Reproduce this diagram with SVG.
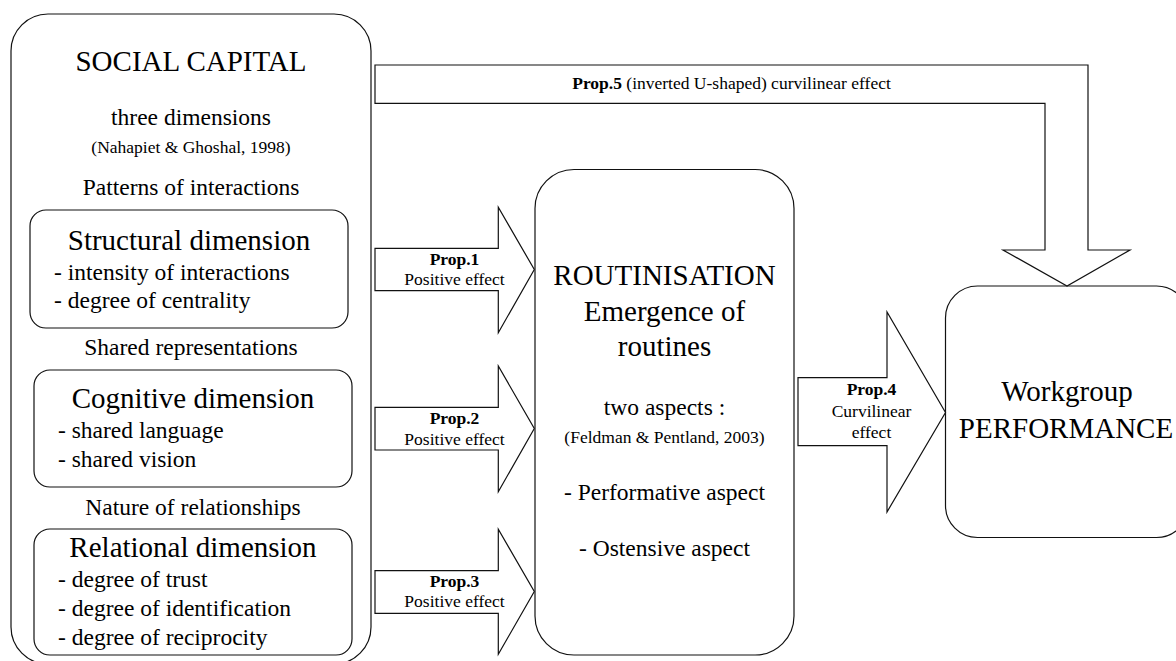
<svg xmlns="http://www.w3.org/2000/svg" width="1176" height="661" viewBox="0 0 1176 661" font-family="'Liberation Serif', 'DejaVu Serif', serif">
<style>
.box{fill:#fff;stroke:#111;stroke-width:1.2}
.arr{fill:#fff;stroke:#111;stroke-width:1.2;stroke-linejoin:miter}
.t{font-family:'Liberation Serif','DejaVu Serif',serif;fill:#000}
.big{font-size:29px}
.mid{font-size:23.5px}
.sm{font-size:17.5px}
.b{font-weight:bold}
.c{text-anchor:middle}
</style>
<rect width="1176" height="661" fill="#fff"/>
<g id="social-capital">
<rect class="box" x="11" y="14" width="360" height="650" rx="37" ry="37"/>
<text class="t big c" x="191" y="71">SOCIAL CAPITAL</text>
<text class="t mid c" x="191" y="125">three dimensions</text>
<text class="t sm c" x="191" y="153">(Nahapiet &amp; Ghoshal, 1998)</text>
<text class="t mid c" x="191" y="195">Patterns of interactions</text>
<text class="t mid c" x="191" y="355">Shared representations</text>
<text class="t mid c" x="193" y="515">Nature of relationships</text>
</g>
<g id="structural">
<rect class="box" x="30" y="210" width="318" height="118" rx="16" ry="16"/>
<text class="t big c" x="189" y="250">Structural dimension</text>
<text class="t mid" x="54" y="280">- intensity of interactions</text>
<text class="t mid" x="54" y="308">- degree of centrality</text>
</g>
<g id="cognitive">
<rect class="box" x="34" y="370" width="318" height="117" rx="16" ry="16"/>
<text class="t big c" x="193" y="408">Cognitive dimension</text>
<text class="t mid" x="58" y="438">- shared language</text>
<text class="t mid" x="58" y="467">- shared vision</text>
</g>
<g id="relational">
<rect class="box" x="34" y="529" width="318" height="126" rx="16" ry="16"/>
<text class="t big c" x="193" y="557">Relational dimension</text>
<text class="t mid" x="58" y="587">- degree of trust</text>
<text class="t mid" x="58" y="616">- degree of identification</text>
<text class="t mid" x="58" y="645">- degree of reciprocity</text>
</g>
<g id="routinisation">
<rect class="box" x="535" y="169.5" width="259" height="485.5" rx="39" ry="39"/>
<text class="t big c" x="664.5" y="285">ROUTINISATION</text>
<text class="t big c" x="664.5" y="321">Emergence of</text>
<text class="t big c" x="664.5" y="356">routines</text>
<text class="t mid c" x="664.5" y="415">two aspects :</text>
<text class="t sm c" x="664.5" y="443">(Feldman &amp; Pentland, 2003)</text>
<text class="t mid c" x="664.5" y="500">- Performative aspect</text>
<text class="t mid c" x="664.5" y="556">- Ostensive aspect</text>
</g>
<g id="performance">
<rect class="box" x="945.5" y="286" width="243" height="251.5" rx="32" ry="32"/>
<text class="t big c" x="1067" y="401">Workgroup</text>
<text class="t big c" x="1066" y="438">PERFORMANCE</text>
</g>
<g id="connectors">
<g id="prop1">
<polygon class="arr" points="375,248.3 498.3,248.3 498.3,207.3 534.3,269.5 498.3,332.7 498.3,290.7 375,290.7"/>
<text class="t sm b c" x="454.5" y="265">Prop.1</text>
<text class="t sm c" x="454.5" y="285">Positive effect</text>
</g>
<g id="prop2">
<polygon class="arr" points="375,407.3 498.3,407.3 498.3,366 534.3,428.5 498.3,491.7 498.3,450 375,450"/>
<text class="t sm b c" x="454.5" y="424.3">Prop.2</text>
<text class="t sm c" x="454.5" y="445">Positive effect</text>
</g>
<g id="prop3">
<polygon class="arr" points="375,570.7 498.3,570.7 498.3,529.3 534.3,591.5 498.3,654.3 498.3,613.3 375,613.3"/>
<text class="t sm b c" x="454.5" y="586.7">Prop.3</text>
<text class="t sm c" x="454.5" y="607.3">Positive effect</text>
</g>
<g id="prop4">
<polygon class="arr" points="798,377.7 887,377.7 887,312 945.5,412.5 887,512 887,445.7 798,445.7"/>
<text class="t sm b c" x="871.5" y="395">Prop.4</text>
<text class="t sm c" x="871.5" y="417">Curvilinear</text>
<text class="t sm c" x="871.5" y="438">effect</text>
</g>
<g id="prop5">
<polygon class="arr" points="375,65 1088,65 1088,250 1130,250 1067,286 1003,250 1045,250 1045,103.3 375,103.3"/>
<text class="t sm c" x="731.5" y="89.3"><tspan class="b">Prop.5</tspan> (inverted U-shaped) curvilinear effect</text>
</g>
</g>
</svg>
